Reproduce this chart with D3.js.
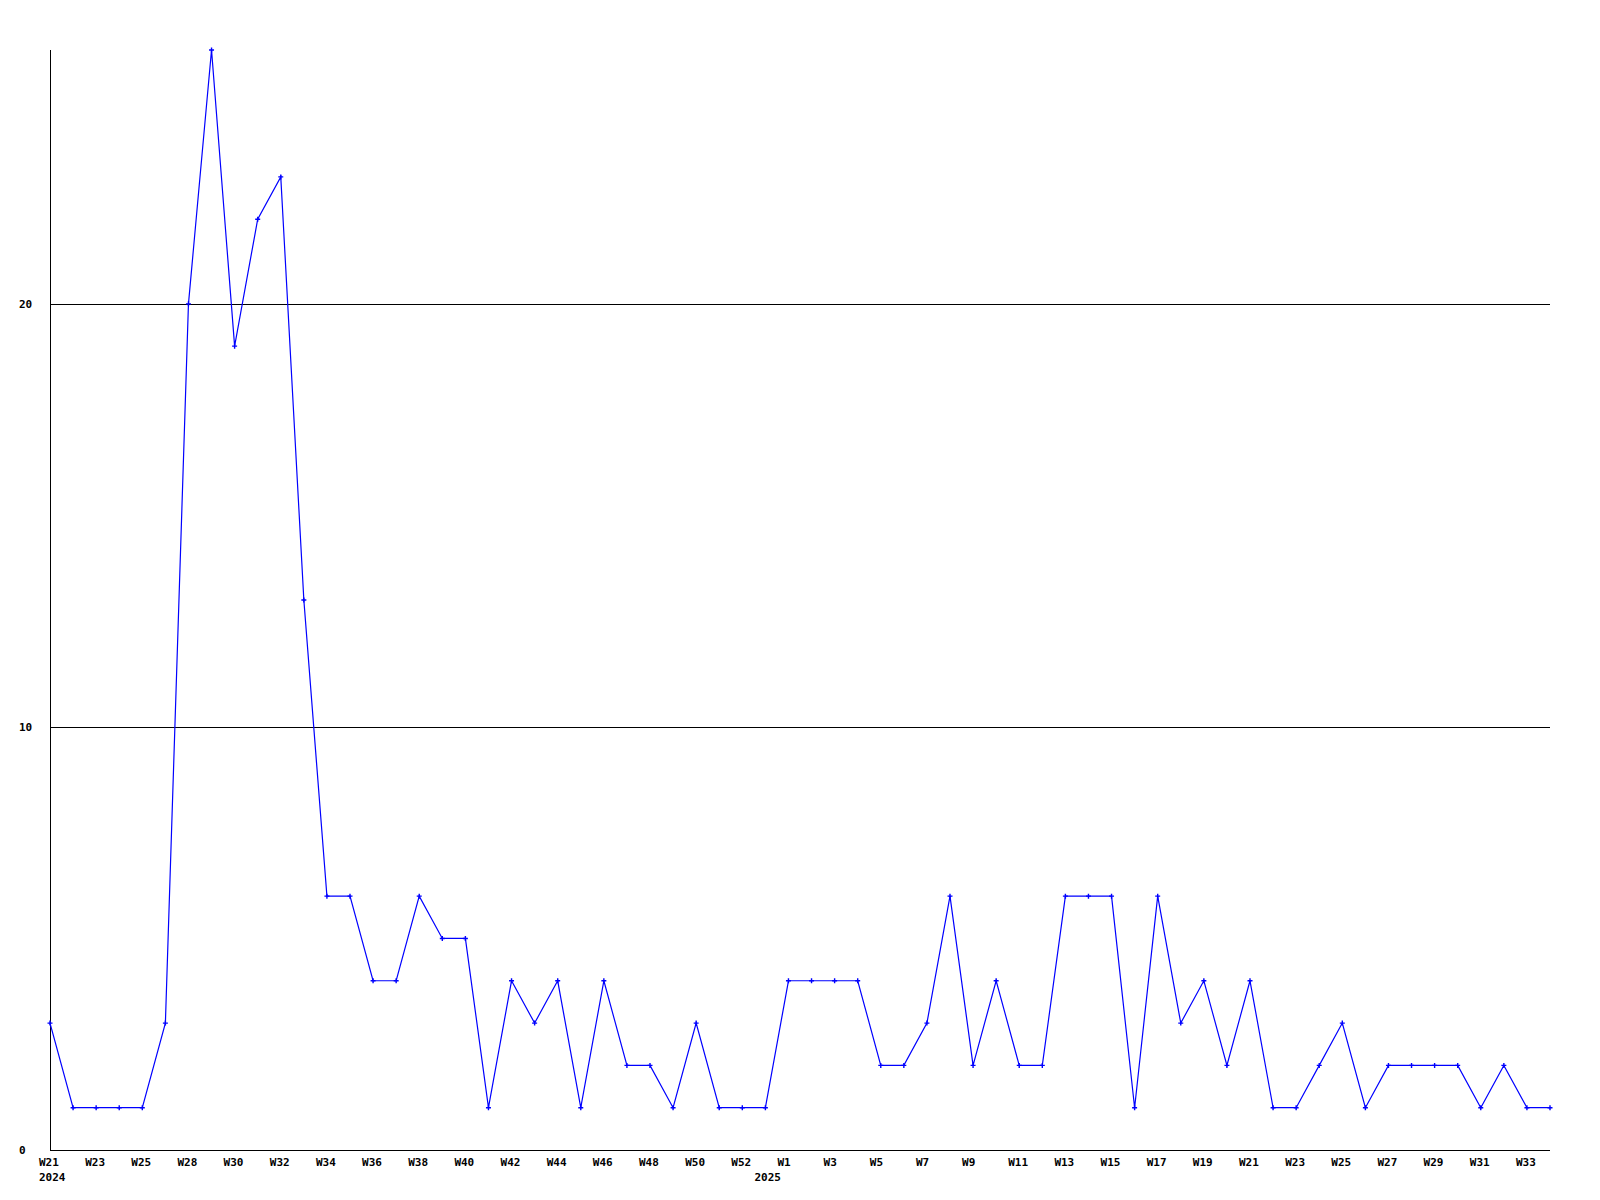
<!DOCTYPE html>
<html>
<head>
<meta charset="utf-8">
<script src="https://cdn.jsdelivr.net/npm/d3@7"></script>
<style>
  html, body { margin: 0; padding: 0; background: #fff; }
  text { font-family: "DejaVu Sans Mono", "Liberation Mono", monospace; font-weight: bold; font-size: 11px; fill: #000; }
</style>
</head>
<body>
<svg id="chart" width="1600" height="1200"></svg>
<script>
// Weekly categories (every second one is labelled)
const categories = [
  "W21","W22","W23","W24","W25","W26","W28","W29","W30","W31","W32","W33","W34","W35","W36","W37",
  "W38","W39","W40","W41","W42","W43","W44","W45","W46","W47","W48","W49","W50","W51","W52","W53",
  "W1","W2","W3","W4","W5","W6","W7","W8","W9","W10","W11","W12","W13","W14","W15","W16",
  "W17","W18","W19","W20","W21","W22","W23","W24","W25","W26","W27","W28","W29","W30","W31","W32",
  "W33","W34"
];
const values = [
  3,1,1,1,1,3,20,26,19,22,23,13,6,6,4,4,
  6,5,5,1,4,3,4,1,4,2,2,1,3,1,1,1,
  4,4,4,4,2,2,3,6,2,4,2,2,6,6,6,1,
  6,3,4,2,4,1,1,2,3,1,2,2,2,2,1,2,
  1,1
];
const yTicks = [0, 10, 20];
const yGridValues = [10, 20];
const yearLabels = [ {index: 0, text: "2024"}, {index: 32, text: "2025"} ];
const yMax = 26;

(function () {
const svg = d3.select("#chart");
const mLeft = 50, mRight = 1550, mTop = 50, mBottom = 1150;

const x = d3.scaleLinear().domain([0, categories.length - 1]).range([mLeft, mRight]);
const y = d3.scaleLinear().domain([0, yMax]).range([mBottom, mTop]);

// grid lines
svg.append("g").selectAll("line").data(yGridValues).join("line")
  .attr("x1", mLeft).attr("x2", mRight)
  .attr("y1", d => Math.round(y(d)) + 0.5).attr("y2", d => Math.round(y(d)) + 0.5)
  .attr("stroke", "#000").attr("stroke-width", 1);

// axes lines
svg.append("line").attr("x1", mLeft + 0.5).attr("x2", mLeft + 0.5).attr("y1", mTop).attr("y2", mBottom)
  .attr("stroke", "#000");
svg.append("line").attr("x1", mLeft).attr("x2", mRight).attr("y1", mBottom + 0.5).attr("y2", mBottom + 0.5)
  .attr("stroke", "#000");

// y labels
svg.append("g").selectAll("text").data(yTicks).join("text")
  .attr("x", 19).attr("y", d => y(d) + 4)
  .text(d => d);

// x tick labels (every second category)
const xLabelIdx = d3.range(0, categories.length, 2);
svg.append("g").selectAll("text").data(xLabelIdx).join("text")
  .attr("x", i => x(i) - 11).attr("y", 1166)
  .text(i => categories[i]);

// year labels
svg.append("g").selectAll("text").data(yearLabels).join("text")
  .attr("x", d => d.index === 0 ? x(d.index) - 11 : x(d.index) - 34).attr("y", 1181)
  .text(d => d.text);

// line
const line = d3.line().x((d, i) => x(i)).y(d => y(d));
svg.append("path").datum(values)
  .attr("d", line)
  .attr("fill", "none").attr("stroke", "#0000ff").attr("stroke-width", 1.2);

// markers
const marker = "M-2.5,-0.7H-0.7V-2.5H0.7V-0.7H2.5V0.7H0.7V2.5H-0.7V0.7H-2.5Z";
svg.append("g").selectAll("path").data(values).join("path")
  .attr("transform", (d, i) => `translate(${x(i)},${y(d)})`)
  .attr("d", marker)
  .attr("fill", "#0000ff");
})();
</script>
</body>
</html>
